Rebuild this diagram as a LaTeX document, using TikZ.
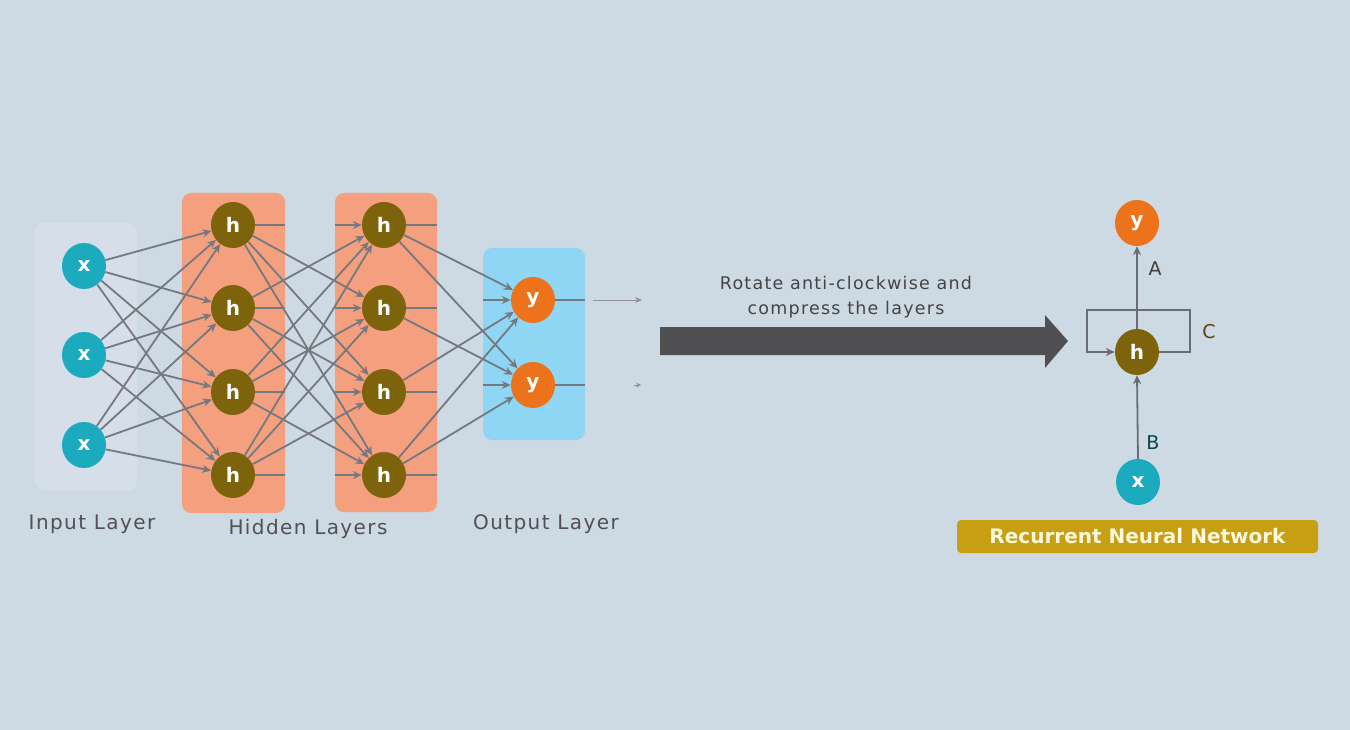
\documentclass[tikz,border=0pt]{standalone}
\usepackage{fontspec}
\setmainfont{DejaVu Sans}
\usetikzlibrary{arrows.meta,shapes.geometric}
\definecolor{bg}{RGB}{206,218,227}
\definecolor{inbg}{RGB}{214,222,233}
\definecolor{hidbg}{RGB}{244,160,126}
\definecolor{outbg}{RGB}{142,214,244}
\definecolor{xcol}{RGB}{27,170,190}
\definecolor{hcol}{RGB}{125,100,12}
\definecolor{ycol}{RGB}{236,114,28}
\definecolor{linkc}{RGB}{118,120,128}
\definecolor{labc}{RGB}{80,80,84}
\definecolor{arrc}{RGB}{80,80,82}
\definecolor{gold}{RGB}{200,158,18}
\definecolor{goldtxt}{RGB}{255,248,220}
\begin{document}
\begin{tikzpicture}[x=1pt,y=-1pt,
  neuron/.style={ellipse,minimum width=44pt,minimum height=46pt,inner sep=0pt,text=white,
    font=\fontsize{20}{22}\selectfont\bfseries},
  xn/.style={neuron,fill=xcol},
  hn/.style={neuron,fill=hcol},
  yn/.style={neuron,fill=ycol},
  layerbox/.style={rounded corners=9pt,inner sep=0pt},
  link/.style={draw=linkc,line width=1.8pt},
  tip/.style={-{Stealth[length=9pt,width=8pt]}},
  laytext/.style={text=labc,font=\fontsize{20}{24}\selectfont\addfontfeature{LetterSpace=7}},
  rnnline/.style={draw=linkc!90!black,line width=1.8pt},
  letter/.style={font=\fontsize{19}{22}\selectfont}
]
\fill[bg] (0,0) rectangle (1350,730);
\useasboundingbox (0,0) rectangle (1350,730);

% layer boxes
\node[layerbox,fill=inbg,minimum width=102pt,minimum height=267pt] (inbox) at (86,356.5) {};
\node[layerbox,fill=hidbg,minimum width=103pt,minimum height=320pt] (hb1) at (233.5,353) {};
\node[layerbox,fill=hidbg,minimum width=102pt,minimum height=319pt] (hb2) at (386,352.5) {};
\node[layerbox,fill=outbg,minimum width=102pt,minimum height=192pt] (outbox) at (534,344) {};

% neurons
\node[xn] (x1) at (84,266) {x};
\node[xn] (x2) at (84,355) {x};
\node[xn] (x3) at (84,445) {x};
\foreach \i/\yy in {1/225,2/308,3/392,4/475}{
  \node[hn] (a\i) at (233,\yy) {h};
  \node[hn] (b\i) at (384,\yy) {h};
}
\node[yn] (y1) at (533,300) {y};
\node[yn] (y2) at (533,385) {y};

% input -> hidden 1
\foreach \i in {1,2,3}{
  \foreach \j in {1,2,3,4}{
    \draw[link,tip] (x\i) -- (a\j);
  }
}
% hidden 1 -> hidden 2 (crossing links)
\foreach \i in {1,2,3,4}{
  \foreach \j in {1,2,3,4}{
    \ifnum\i=\j\else
      \draw[link,tip] (a\i) -- (b\j);
    \fi
  }
}
% hidden 2 -> output
\foreach \i/\j in {1/1,1/2,2/2,3/1,4/1,4/2}{
  \draw[link,tip] (b\i) -- (y\j);
}
% short horizontal stubs inside boxes
\foreach \i in {1,2,3,4}{
  \draw[link] (a\i.east) -- (a\i.east -| hb1.east);
  \draw[link,tip] (b\i.west -| hb2.west) -- (b\i.west);
  \draw[link] (b\i.east) -- (b\i.east -| hb2.east);
}
\draw[link,tip] (y1.west -| outbox.west) -- (y1.west);
\draw[link,tip] (y2.west -| outbox.west) -- (y2.west);
\draw[link] (y1.east) -- (y1.east -| outbox.east);
\draw[link] (y2.east) -- (y2.east -| outbox.east);

% faint outgoing arrows
\coordinate (o1s) at (593,300);
\coordinate (o1e) at (642,300);
\coordinate (o2s) at (634,385);
\coordinate (o2e) at (641,385);
\draw[draw=linkc!80,line width=1pt,-{Stealth[length=7pt,width=6pt]}] (o1s) -- (o1e);
\draw[draw=linkc!80,line width=1pt,-{Stealth[length=5pt,width=5pt]}] (o2s) -- (o2e);

% layer labels
\node[laytext] (lin) at (92,524) {Input Layer};
\node[laytext] (lhid) at (308,529) {Hidden Layers};
\node[laytext] (lout) at (546,524) {Output Layer};

% big arrow
\fill[arrc] (660,327) -- (1045,327) -- (1045,315) -- (1068,341)
  -- (1045,368) -- (1045,355) -- (660,355) -- cycle;
\node[text=labc!85!black,align=center,
  font=\fontsize{17.5}{25}\selectfont\addfontfeature{LetterSpace=7}] (rot) at (846,297)
  {Rotate anti-clockwise and\\compress the layers};

% recurrent network
\node[yn] (ry) at (1137,223) {y};
\node[hn] (rh) at (1137,352) {h};
\node[xn] (rx) at (1138,482) {x};
\draw[rnnline,tip] (rh.north) -- (ry.south);
\draw[rnnline,tip] (rx.north) -- (rh.south);
\coordinate (c1) at (1190,310);
\coordinate (c2) at (1087,310);
\draw[rnnline,tip] (rh.east) -| (c1) -- (c2) |- (rh.west);
\node[letter,text=black!75] (lA) at (1155,269) {A};
\node[letter,text=hcol!70!black] (lC) at (1209,332) {C};
\node[letter,text=xcol!40!black] (lB) at (1153,443) {B};

\node[fill=gold,rounded corners=4pt,minimum width=361pt,minimum height=33pt,
  text=goldtxt,font=\fontsize{20}{24}\selectfont\bfseries] (rnn) at (1137.5,536.5)
  {Recurrent Neural Network};
\end{tikzpicture}
\end{document}
